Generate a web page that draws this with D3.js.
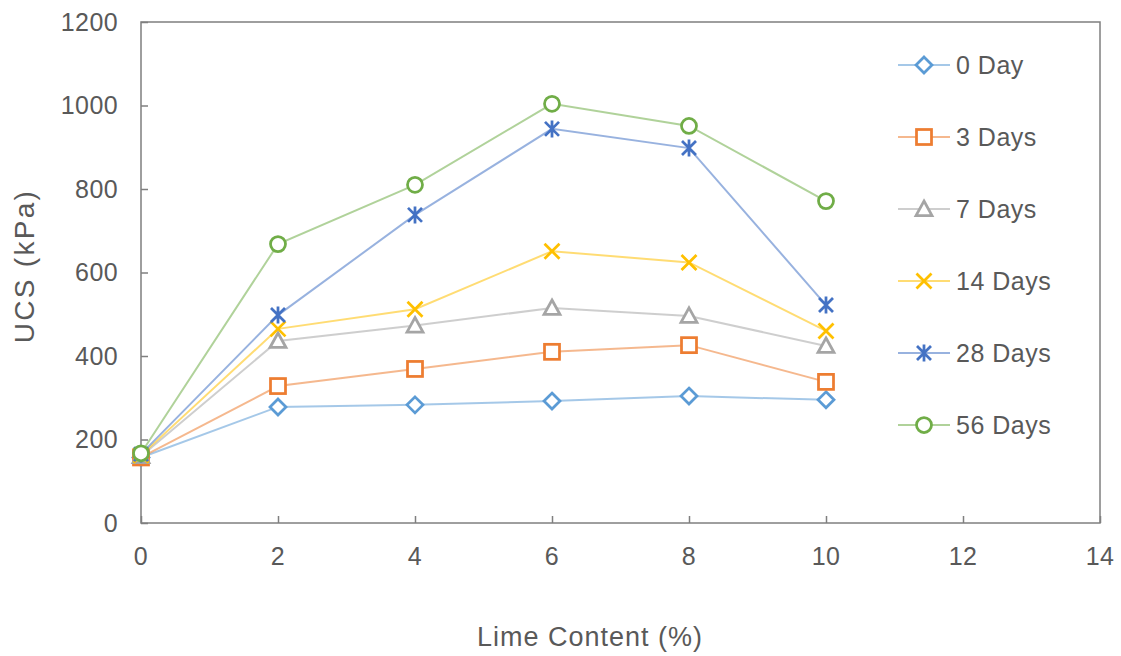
<!DOCTYPE html>
<html>
<head>
<meta charset="utf-8">
<script src="https://cdn.jsdelivr.net/npm/d3@7"></script>
<style>
  body { margin: 0; background: #fff; }
  svg { display: block; font-family: "Liberation Sans", Arial, sans-serif; }
</style>
</head>
<body>
<div id="chart"></div>
<script>
const limeContent = [0, 2, 4, 6, 8, 10]
const seriesNames = ["0 Day", "3 Days", "7 Days", "14 Days", "28 Days", "56 Days"]
const day0 = [157, 278, 283, 292, 304, 295]
const day3 = [157, 328, 369, 410, 426, 338]
const day7 = [160, 436, 473, 515, 496, 424]
const day14 = [162, 465, 512, 651, 624, 460]
const day28 = [165, 498, 738, 944, 898, 522]
const day56 = [167, 668, 810, 1004, 951, 771]
const xTicks = [0, 2, 4, 6, 8, 10, 12, 14]
const yTicks = [0, 200, 400, 600, 800, 1000, 1200]

const seriesValues = [day0, day3, day7, day14, day28, day56]
const colors = ["#5B9BD5", "#ED7D31", "#A5A5A5", "#FFC000", "#4472C4", "#70AD47"]
const shapes = ["diamond", "square", "triangle", "x", "star", "circle"]

const width = 1121, height = 656
const margin = { top: 22, right: 21, bottom: 133, left: 141 }

const svg = d3.select("#chart").append("svg")
  .attr("width", width)
  .attr("height", height)

const x = d3.scaleLinear().domain([0, 14]).range([margin.left, width - margin.right])
const y = d3.scaleLinear().domain([0, 1200]).range([height - margin.bottom, margin.top])

const axisColor = "#7f7f7f"
const textColor = "#595959"

// plot frame
svg.append("rect")
  .attr("x", x(0)).attr("y", y(1200))
  .attr("width", x(14) - x(0)).attr("height", y(0) - y(1200))
  .attr("fill", "none").attr("stroke", axisColor).attr("stroke-width", 1.5)

// y axis, ticks pointing inward
const yAxis = svg.append("g")
  .attr("transform", `translate(${x(0)},0)`)
  .call(d3.axisRight(y).tickValues(yTicks).tickSize(7).tickFormat(""))
yAxis.select(".domain").remove()
yAxis.selectAll("line").attr("stroke", axisColor).attr("stroke-width", 1.5)

svg.append("g").selectAll("text")
  .data(yTicks)
  .join("text")
  .attr("x", x(0) - 23)
  .attr("y", d => y(d))
  .attr("dy", "0.35em")
  .attr("text-anchor", "end")
  .attr("font-size", 25)
  .attr("letter-spacing", 0.4)
  .attr("fill", textColor)
  .text(d => d)

// x axis, ticks pointing inward
const xAxis = svg.append("g")
  .attr("transform", `translate(0,${y(0)})`)
  .call(d3.axisTop(x).tickValues(xTicks).tickSize(7).tickFormat(""))
xAxis.select(".domain").remove()
xAxis.selectAll("line").attr("stroke", axisColor).attr("stroke-width", 1.5)

svg.append("g").selectAll("text")
  .data(xTicks)
  .join("text")
  .attr("x", d => x(d))
  .attr("y", y(0) + 42)
  .attr("text-anchor", "middle")
  .attr("font-size", 25)
  .attr("letter-spacing", 0.4)
  .attr("fill", textColor)
  .text(d => d)

// axis titles
svg.append("text")
  .attr("x", 590)
  .attr("y", 646)
  .attr("text-anchor", "middle")
  .attr("font-size", 27)
  .attr("letter-spacing", 1)
  .attr("fill", textColor)
  .text("Lime Content (%)")

svg.append("text")
  .attr("transform", `translate(34,266) rotate(-90)`)
  .attr("text-anchor", "middle")
  .attr("font-size", 28)
  .attr("letter-spacing", 2.3)
  .attr("fill", textColor)
  .text("UCS (kPa)")

const drawMarker = (g, shape, color) => {
  const common = s => s.attr("fill", shape === "x" || shape === "star" ? "none" : "#fff")
    .attr("stroke", color).attr("stroke-width", 2.75)
  if (shape === "diamond") {
    g.append("path").attr("d", "M0,-8L8,0L0,8L-8,0Z").call(common)
  } else if (shape === "square") {
    g.append("rect").attr("x", -7.5).attr("y", -7.5).attr("width", 15).attr("height", 15).call(common)
  } else if (shape === "triangle") {
    g.append("path").attr("d", "M0,-8L8,6.5L-8,6.5Z").call(common)
  } else if (shape === "x") {
    g.append("path").attr("d", "M-7.5,-7.5L7.5,7.5M7.5,-7.5L-7.5,7.5").call(common)
  } else if (shape === "star") {
    g.append("path").attr("d", "M-7,-7L7,7M7,-7L-7,7M0,-8.5L0,8.5").call(common)
  } else {
    g.append("circle").attr("r", 7.5).call(common)
  }
}

const line = d3.line()
  .x(d => x(d[0]))
  .y(d => y(d[1]))

seriesValues.forEach((vals, i) => {
  const pts = limeContent.map((c, j) => [c, vals[j]])
  const g = svg.append("g")
  g.append("path")
    .datum(pts)
    .attr("fill", "none")
    .attr("stroke", colors[i])
    .attr("stroke-opacity", 0.55)
    .attr("stroke-width", 2)
    .attr("d", line)
  g.selectAll("g.marker")
    .data(pts)
    .join("g")
    .attr("class", "marker")
    .attr("transform", d => `translate(${x(d[0])},${y(d[1])})`)
    .each(function () { drawMarker(d3.select(this), shapes[i], colors[i]) })
})

// legend
const legend = svg.append("g")
seriesNames.forEach((name, i) => {
  const ly = 65 + i * 72
  const row = legend.append("g").attr("transform", `translate(924,${ly})`)
  row.append("line")
    .attr("x1", -26).attr("x2", 26)
    .attr("stroke", colors[i]).attr("stroke-opacity", 0.55).attr("stroke-width", 2)
  drawMarker(row, shapes[i], colors[i])
  row.append("text")
    .attr("x", 32)
    .attr("dy", "0.36em")
    .attr("font-size", 25)
    .attr("letter-spacing", 0.5)
    .attr("fill", textColor)
    .text(name)
})
</script>
</body>
</html>
